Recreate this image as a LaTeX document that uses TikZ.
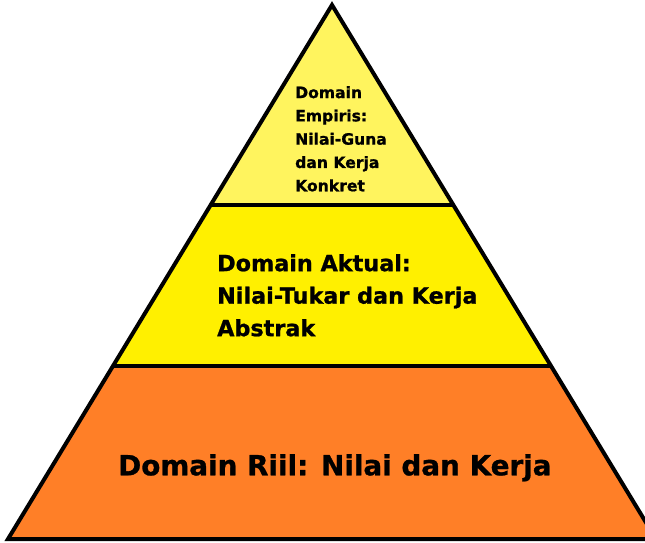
\documentclass[tikz,border=0pt]{standalone}
\usepackage{fontspec}
\setmainfont[BoldFeatures={FakeBold=1}]{DejaVu Sans}
\definecolor{topband}{HTML}{FFF45E}
\definecolor{midband}{HTML}{FFF000}
\definecolor{baseband}{HTML}{FF7F27}
\begin{document}
\begin{tikzpicture}[x=1pt,y=-1pt,
  edge/.style={line width=4pt,line join=miter,draw=black},
  label/.style={anchor=north west,inner sep=0pt,align=left}]
\useasboundingbox (0,0) rectangle (645,542);
\clip (0,0) rectangle (645,542);
% pyramid corners and band boundaries
\coordinate (apex) at (332,5);
\coordinate (bl) at (8,539);
\coordinate (br) at (656,539);
\coordinate (ul) at (210.5,205);
\coordinate (ur) at (453.5,205);
\coordinate (ll) at (113,366);
\coordinate (lr) at (551,366);
% bands
\fill[topband] (apex) -- (ur) -- (ul) -- cycle;
\fill[midband] (ul) -- (ur) -- (lr) -- (ll) -- cycle;
\fill[baseband] (ll) -- (lr) -- (br) -- (bl) -- cycle;
% outlines
\draw[edge] (apex) -- (br) -- (bl) -- cycle;
\draw[edge] (ul) -- (ur);
\draw[edge] (ll) -- (lr);
% labels
\node[label,font=\bfseries\fontsize{15.6}{23.3}\selectfont] (empiris) at (295,86)
  {Domain\\Empiris:\\Nilai-Guna\\dan Kerja\\Konkret};
\node[label,font=\bfseries\fontsize{22.3}{32.5}\selectfont] (aktual) at (217,254)
  {Domain Aktual:\\Nilai-Tukar dan Kerja\\Abstrak};
\node[label,font=\bfseries\fontsize{27.8}{34}\selectfont] (riil) at (118,454)
  {Domain Riil: Nilai dan Kerja};
\end{tikzpicture}
\end{document}
